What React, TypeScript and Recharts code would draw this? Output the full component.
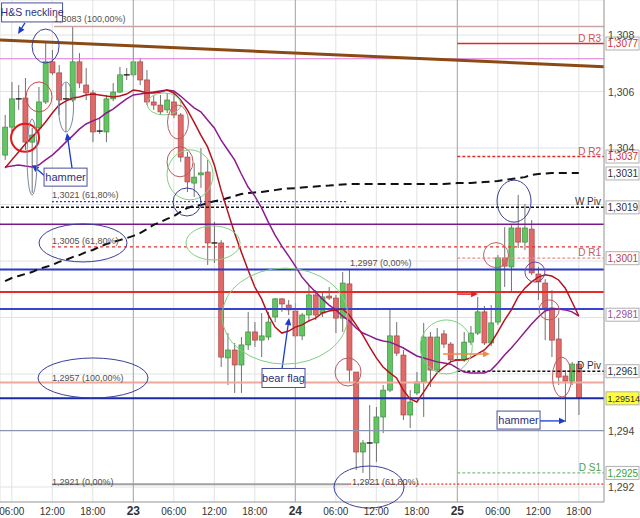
import React from 'react';
import { ComposedChart, Bar, Line, XAxis, YAxis, CartesianGrid, ReferenceLine, ReferenceDot } from 'recharts';

// ---------- data ----------
const hours = [5,6,7,8,9,10,11,12,13,14,15,16,17,18,19,20,21,22,23,24,25,26,27,28,29,30,31,32,33,34,35,36,37,38,39,40,41,42,43,44,45,46,47,48,49,50,51,52,53,54,55,56,57,58,59,60,61,62,63,64,65,66,67,68,69,70,71,72,73,74,75,76,77,78,79,80,81,82,83,84,85,86,87,88,89,90];
const opens = [1.30375,1.30474,1.30574,1.30577,1.30421,1.30471,1.30563,1.30705,1.30666,1.30574,1.30570,1.30705,1.30623,1.30595,1.30460,1.30457,1.30574,1.30598,1.30659,1.30659,1.30705,1.30641,1.30563,1.30552,1.30535,1.30563,1.30517,1.30368,1.30276,1.30305,1.30315,1.30064,1.30064,1.29657,1.29685,1.29632,1.29703,1.29749,1.29720,1.29731,1.29802,1.29866,1.29844,1.29823,1.29735,1.29809,1.29880,1.29816,1.29876,1.29869,1.29798,1.29919,1.29607,1.29324,1.29356,1.29356,1.29448,1.29543,1.29735,1.29667,1.29455,1.29533,1.29572,1.29731,1.29614,1.29742,1.29706,1.29650,1.29650,1.29713,1.29745,1.29820,1.29710,1.29784,1.30011,1.29979,1.30117,1.30067,1.30113,1.29954,1.29922,1.29834,1.29724,1.29593,1.29575,1.29635];
const highs = [1.30517,1.30634,1.30623,1.30648,1.30471,1.30616,1.30772,1.30747,1.30694,1.30630,1.30830,1.30736,1.30683,1.30605,1.30510,1.30588,1.30630,1.30687,1.30683,1.30758,1.30719,1.30676,1.30588,1.30588,1.30595,1.30598,1.30524,1.30386,1.30347,1.30400,1.30358,1.30138,1.30074,1.29745,1.29710,1.29731,1.29820,1.29784,1.29816,1.29820,1.29869,1.29869,1.29862,1.29851,1.29816,1.29915,1.29897,1.29890,1.29908,1.29880,1.29961,1.29968,1.29607,1.29366,1.29490,1.29483,1.29561,1.29827,1.29784,1.29685,1.29543,1.29607,1.29781,1.29749,1.29763,1.29756,1.29713,1.29678,1.29749,1.29770,1.29873,1.29841,1.29844,1.30021,1.30120,1.30127,1.30234,1.30202,1.30145,1.29979,1.29936,1.29897,1.29798,1.29614,1.29643,1.29643];
const lows = [1.30358,1.30453,1.30535,1.30393,1.30241,1.30428,1.30556,1.30659,1.30517,1.30457,1.30563,1.30612,1.30570,1.30421,1.30450,1.30421,1.30566,1.30595,1.30641,1.30651,1.30623,1.30552,1.30535,1.30517,1.30524,1.30506,1.30351,1.30244,1.30227,1.30259,1.29986,1.29993,1.29625,1.29561,1.29533,1.29533,1.29685,1.29696,1.29660,1.29720,1.29784,1.29820,1.29809,1.29727,1.29720,1.29784,1.29791,1.29802,1.29862,1.29745,1.29749,1.29572,1.29260,1.29250,1.29225,1.29289,1.29391,1.29536,1.29664,1.29437,1.29409,1.29526,1.29448,1.29554,1.29607,1.29692,1.29643,1.29628,1.29643,1.29703,1.29738,1.29703,1.29699,1.29774,1.29908,1.29887,1.30046,1.30039,1.29950,1.29862,1.29720,1.29660,1.29561,1.29430,1.29561,1.29455];
const closes = [1.30474,1.30574,1.30572,1.30421,1.30446,1.30563,1.30705,1.30666,1.30570,1.30572,1.30705,1.30630,1.30595,1.30457,1.30458,1.30574,1.30598,1.30659,1.30657,1.30705,1.30641,1.30563,1.30552,1.30528,1.30570,1.30517,1.30368,1.30280,1.30297,1.30312,1.30064,1.30062,1.29660,1.29685,1.29632,1.29703,1.29749,1.29720,1.29735,1.29784,1.29866,1.29848,1.29827,1.29735,1.29809,1.29880,1.29809,1.29873,1.29869,1.29798,1.29922,1.29614,1.29324,1.29356,1.29354,1.29448,1.29543,1.29735,1.29674,1.29455,1.29501,1.29572,1.29731,1.29614,1.29731,1.29706,1.29650,1.29648,1.29713,1.29745,1.29820,1.29710,1.29781,1.30011,1.29982,1.30117,1.30067,1.30117,1.29958,1.29926,1.29834,1.29720,1.29589,1.29575,1.29635,1.29515];
const maFast = [1.30329,1.30358,1.30386,1.30414,1.30439,1.30464,1.30492,1.30524,1.30552,1.30566,1.30577,1.30581,1.30588,1.30591,1.30588,1.30584,1.30581,1.30584,1.30591,1.30605,1.30602,1.30595,1.30595,1.30598,1.30605,1.30595,1.30570,1.30535,1.30492,1.30446,1.30404,1.30340,1.30251,1.30174,1.30099,1.30032,1.29968,1.29908,1.29866,1.29809,1.29766,1.29745,1.29752,1.29766,1.29774,1.29788,1.29798,1.29816,1.29823,1.29827,1.29830,1.29809,1.29774,1.29738,1.29696,1.29657,1.29625,1.29604,1.29586,1.29543,1.29512,1.29501,1.29536,1.29572,1.29604,1.29625,1.29643,1.29650,1.29650,1.29657,1.29671,1.29685,1.29710,1.29749,1.29791,1.29827,1.29873,1.29904,1.29926,1.29943,1.29951,1.29947,1.29933,1.29904,1.29855,1.29805];
const maSlow = [1.30333,1.30336,1.30340,1.30336,1.30333,1.30340,1.30358,1.30375,1.30397,1.30421,1.30443,1.30467,1.30485,1.30496,1.30506,1.30524,1.30538,1.30556,1.30574,1.30588,1.30591,1.30595,1.30598,1.30602,1.30605,1.30602,1.30584,1.30563,1.30542,1.30528,1.30499,1.30471,1.30428,1.30393,1.30358,1.30308,1.30262,1.30230,1.30188,1.30138,1.30092,1.30053,1.30018,1.29982,1.29943,1.29915,1.29890,1.29866,1.29844,1.29827,1.29805,1.29788,1.29763,1.29745,1.29735,1.29724,1.29717,1.29713,1.29703,1.29692,1.29678,1.29664,1.29657,1.29650,1.29643,1.29639,1.29635,1.29621,1.29607,1.29604,1.29604,1.29604,1.29614,1.29639,1.29667,1.29692,1.29720,1.29749,1.29777,1.29802,1.29823,1.29830,1.29830,1.29827,1.29820,1.29805];
const maLong = [1.29929,1.29940,1.29947,1.29954,1.29961,1.29972,1.29979,1.29986,1.29997,1.30004,1.30014,1.30021,1.30032,1.30039,1.30050,1.30060,1.30067,1.30074,1.30081,1.30089,1.30099,1.30113,1.30128,1.30138,1.30149,1.30159,1.30174,1.30188,1.30195,1.30198,1.30205,1.30212,1.30216,1.30223,1.30230,1.30237,1.30241,1.30243,1.30244,1.30248,1.30251,1.30255,1.30257,1.30258,1.30260,1.30262,1.30264,1.30266,1.30267,1.30269,1.30271,1.30273,1.30273,1.30273,1.30273,1.30273,1.30273,1.30273,1.30273,1.30273,1.30273,1.30273,1.30273,1.30273,1.30273,1.30273,1.30274,1.30276,1.30276,1.30276,1.30278,1.30280,1.30281,1.30283,1.30287,1.30290,1.30294,1.30297,1.30305,1.30308,1.30310,1.30312,1.30312,1.30312,1.30312,1.30312];

const xTicks = [6,12,18,24,30,36,42,48,54,60,66,72,78,84,90];
const xTickLabels = ['06:00','12:00','18:00','23','06:00','12:00','18:00','24','06:00','12:00','18:00','25','06:00','12:00','18:00'];
const yTicks = [1.292,1.294,1.296,1.298,1.300,1.302,1.304,1.306,1.308];
const yTickShown = [true,true,false,false,false,false,true,true,true];

const pivotNames = ['D R3','D R2','W Piv','D R1','D Piv','D S1'];
const pivotValues = [1.3077,1.3037,1.3019,1.3001,1.2961,1.2925];
const pivotStart = 72;

const fibTexts = ['1,3083 (100,00%)','1,3021 (61,80%)','1,3005 (61,80%)','1,2997 (0,00%)','1,2957 (100,00%)','1,2921 (0,00%)','1,2921 (61,80%)'];
const fibTextHours = [12.25,11.95,11.95,56.1,11.95,11.95,56.4];
const fibTextPrices = [1.30846,1.30223,1.30060,1.29982,1.29575,1.29207,1.29207];

const levelsFull = [1.30716,1.3013,1.2997,1.2989,1.2983,1.2957,1.29514,1.294];
const fib100 = 1.3083, fib618a = 1.3021, fib618b = 1.3005, fib0 = 1.2921;
const neckline = [1.30782, 1.30688];

const boxTexts = ['1,3077','1,3037','1,3031','1,3019','1,3001','1,2981','1,2961','1,29514','1,2925'];
const boxValues = [1.3077,1.3037,1.3031,1.3019,1.3001,1.2981,1.2961,1.29514,1.2925];

const ellipseHours = [11.0,10.03,7.96,9.0,14.03,28.55,30.62,30.92,32.4,31.96,35.81,16.55,46.47,55.81,18.03,58.92,70.36,77.73,80.4,83.5,85.6,87.51];
const ellipsePrices = [1.30761,1.30581,1.30436,1.30368,1.30545,1.30556,1.30492,1.30351,1.30305,1.30209,1.30064,1.30064,1.29805,1.29607,1.29586,1.29200,1.29696,1.30021,1.30212,1.29961,1.29827,1.29589];

const calloutTexts = ['H&S neckline','hammer','bear flag','hammer'];
const calloutHours = [9.0,13.96,46.25,81.07];
const calloutPrices = [1.3088,1.30297,1.29586,1.29437];

const arrowFromHours = [7.95,10.77,14.92,46.03,84.25,69.88,71.96];
const arrowFromPrices = [1.30843,1.30304,1.30329,1.29618,1.29434,1.29671,1.29883];
const arrowToHours = [6.92,8.99,14.18,47.07,88.1,76.84,75.07];
const arrowToPrices = [1.30804,1.30340,1.30453,1.29798,1.29434,1.29671,1.29883];

// ---------- styles ----------
const NAVY = '#3a3f9a', GREEN = '#80d080', BROWN = '#b85c5c';
const ellipseStyle: [number, number, string, number][] = [
  [13.5,17,NAVY,1],[13,15,'#c84a4a',1],[14,14,'#e01818',2],[5,38,'#7a86a0',1],[7.5,25,'#7a86a0',1],
  [17,11,GREEN,1],[10.5,17,BROWN,1],[13,15,BROWN,1],[23,25,GREEN,1],[14,14,NAVY,1],[27,17,GREEN,1],
  [44,19,NAVY,1],[63,48,GREEN,1],[13,14,BROWN,1],[55,20,NAVY,1],[35,21,NAVY,1],[26,27,GREEN,1],
  [12.5,12.5,'#c06060',1],[17,21,NAVY,1],[10,10,'#6a4aa0',1],[10,10,BROWN,1],[9.5,20,BROWN,1],
];
const calloutSize: [number, number, number][] = [[61,19,10.5],[43,18,11],[43,19,11],[43,18,11]];
const arrowColors = ['#1a3ad0','#1a3ad0','#1a3ad0','#1a3ad0','#1a3ad0','#f08a4a','#e02020'];
const pivotColors = ['#d05050','#d05050','#333333','#c06060','#333333','#50a050'];
const boxColors = ['#d03030','#d03030','#303030','#303030','#c04040','#a050a0','#303030','#303030','#40a040'];
const levelColors = ['#e07ad8','#7a1a8a','#2d38c8','#e52a2a','#3545d0','#f0a898','#1a2aa8','#8c94b0'];
const levelWidths = [1.2,1.5,2,2,2,2,2,1.2];

const W = 640, H = 518;
const X_DOMAIN: [number, number] = [4.25, 93.73];
const Y_DOMAIN: [number, number] = [1.29147, 1.30924];
const FONT = '"Liberation Sans", Arial, sans-serif';

function Candle(props: any) {
  const { x, y, width, height, payload } = props;
  if (!payload || x == null || y == null) return null;
  const { o, h, l, c } = payload;
  const top0 = height < 0 ? y + height : y;
  const hh = Math.abs(height);
  const cx = x + width / 2;
  const k = hh / (h - l);
  const py = (v: number) => top0 + (h - v) * k;
  const bt = py(Math.max(o, c));
  const bb = py(Math.min(o, c));
  const up = c > o;
  const doji = Math.abs(c - o) < 0.00004;
  return (
    <g>
      <line x1={cx} x2={cx} y1={top0} y2={top0 + hh} stroke="#707070" strokeWidth={1} />
      {doji ? (
        <line x1={cx - 3} x2={cx + 3} y1={bt} y2={bt} stroke="#111" strokeWidth={1.3} />
      ) : (
        <rect x={cx - 2.5} y={bt} width={5} height={Math.max(1, bb - bt)}
          fill={up ? '#62c462' : '#e06a6a'} stroke={up ? '#3f8f3f' : '#a94848'} strokeWidth={0.7} />
      )}
    </g>
  );
}

const XTick = (p: any) => {
  const i = xTicks.indexOf(p.payload.value);
  const label = xTickLabels[i] ?? '';
  const day = label.length <= 2;
  return (
    <text x={p.x} y={p.y + 11} textAnchor="middle" fontFamily={FONT}
      fontSize={day ? 12 : 10} fontWeight={day ? 'bold' : 'normal'} fill="#333">{label}</text>
  );
};

const YTick = (p: any) => {
  const i = yTicks.findIndex((v) => Math.abs(v - p.payload.value) < 1e-6);
  if (i < 0 || !yTickShown[i]) return <g />;
  return (
    <text x={p.x + 4} y={p.y + 4} textAnchor="start" fontFamily={FONT} fontSize={10.5} fill="#444">
      {yTicks[i].toFixed(3).replace('.', ',')}
    </text>
  );
};

const arrowShape = (color: string, w: number) => (p: any) => {
  const { x1, y1, x2, y2 } = p;
  if ([x1, y1, x2, y2].some((v) => v == null || isNaN(v))) return <g />;
  const a = Math.atan2(y2 - y1, x2 - x1);
  const L = 7, Wd = 3.2;
  const bx = x2 - L * Math.cos(a), by = y2 - L * Math.sin(a);
  const pts = `${x2},${y2} ${bx - Wd * Math.sin(a)},${by + Wd * Math.cos(a)} ${bx + Wd * Math.sin(a)},${by - Wd * Math.cos(a)}`;
  return (
    <g>
      <line x1={x1} y1={y1} x2={bx} y2={by} stroke={color} strokeWidth={w} />
      <polygon points={pts} fill={color} />
    </g>
  );
};

export default function App() {
  const data = hours.map((t, i) => ({
    t, o: opens[i], h: highs[i], l: lows[i], c: closes[i],
    fast: maFast[i], slow: maSlow[i], long: maLong[i],
  }));
  const xEnd = X_DOMAIN[1];
  return (
    <div style={{ position: 'absolute', left: 0, top: 0, width: W, height: H, background: '#fff', fontFamily: FONT }}>
      <ComposedChart width={W} height={H} data={data} margin={{ top: 0, right: 0, bottom: 0, left: 0 }}>
        <CartesianGrid stroke="#e2e2e2" strokeWidth={1} />
        <XAxis dataKey="t" type="number" domain={X_DOMAIN} ticks={xTicks} interval={0} allowDataOverflow
          height={16} tickSize={0} tickMargin={2} tickLine={false} axisLine={{ stroke: '#a0a0a0' }} tick={<XTick />} />
        <YAxis orientation="right" type="number" domain={Y_DOMAIN} ticks={yTicks} interval={0} allowDataOverflow
          width={36} tickSize={0} tickMargin={0} tickLine={false} axisLine={{ stroke: '#a0a0a0' }} tick={<YTick />} />

        {[24, 48, 72].map((d) => (
          <ReferenceLine key={'day' + d} x={d} stroke="#a8a8a8" strokeWidth={1} />
        ))}

        {levelsFull.map((v, i) => (
          <ReferenceLine key={'lv' + i} y={v} stroke={levelColors[i]} strokeWidth={levelWidths[i]} />
        ))}
        <ReferenceLine y={pivotValues[2]} stroke="#111" strokeWidth={1.5} strokeDasharray="3 2" />
        <ReferenceLine segment={[{ x: 12.25, y: fib100 }, { x: xEnd, y: fib100 }]} stroke="#c8a4a4" strokeWidth={1.5} />
        <ReferenceLine segment={[{ x: 11.95, y: fib618a }, { x: 55.6, y: fib618a }]} stroke="#2a3acc" strokeWidth={1.3} strokeDasharray="2 2" />
        <ReferenceLine segment={[{ x: 11.95, y: fib618b }, { x: xEnd, y: fib618b }]} stroke="#e03030" strokeWidth={1.3} strokeDasharray="3 3" />
        <ReferenceLine segment={[{ x: 11.95, y: fib0 }, { x: 56, y: fib0 }]} stroke="#a0a0a0" strokeWidth={2} />
        <ReferenceLine segment={[{ x: 56, y: fib0 }, { x: xEnd, y: fib0 }]} stroke="#e03030" strokeWidth={1.3} strokeDasharray="2 2" />
        <ReferenceLine segment={[{ x: pivotStart, y: pivotValues[0] }, { x: xEnd, y: pivotValues[0] }]} stroke="#e02a2a" strokeWidth={1.5} />
        <ReferenceLine segment={[{ x: pivotStart, y: pivotValues[1] }, { x: xEnd, y: pivotValues[1] }]} stroke="#e02a2a" strokeWidth={1.5} strokeDasharray="3 2" />
        <ReferenceLine segment={[{ x: pivotStart, y: pivotValues[3] }, { x: xEnd, y: pivotValues[3] }]} stroke="#e39090" strokeWidth={1.3} strokeDasharray="3 2" />
        <ReferenceLine segment={[{ x: pivotStart, y: pivotValues[4] }, { x: xEnd, y: pivotValues[4] }]} stroke="#111" strokeWidth={1.5} strokeDasharray="3 2" />
        <ReferenceLine segment={[{ x: pivotStart, y: pivotValues[5] }, { x: xEnd, y: pivotValues[5] }]} stroke="#80c080" strokeWidth={1.3} strokeDasharray="3 2" />
        <ReferenceLine segment={[{ x: X_DOMAIN[0], y: neckline[0] }, { x: xEnd, y: neckline[1] }]} stroke="#8b4a14" strokeWidth={3} />

        <Bar dataKey={(d: any) => [d.l, d.h]} barSize={5} isAnimationActive={false} activeBar={false}
          shape={(p: any) => <Candle {...p} />} />
        <Line dataKey="long" type="linear" stroke="#111" strokeWidth={2} strokeDasharray="8 5" dot={false} activeDot={false} isAnimationActive={false} />
        <Line dataKey="slow" type="linear" stroke="#8b1c8b" strokeWidth={1.5} dot={false} activeDot={false} isAnimationActive={false} />
        <Line dataKey="fast" type="linear" stroke="#b3141e" strokeWidth={1.5} dot={false} activeDot={false} isAnimationActive={false} />

        {ellipseHours.map((t, i) => {
          const [rx, ry, col, sw] = ellipseStyle[i];
          return (
            <ReferenceDot key={'el' + i} x={t} y={ellipsePrices[i]} r={1} ifOverflow="visible"
              shape={(p: any) => <ellipse cx={p.cx} cy={p.cy} rx={rx} ry={ry} fill="none" stroke={col} strokeWidth={sw} />} />
          );
        })}

        {arrowFromHours.map((t, i) => (
          <ReferenceLine key={'ar' + i} segment={[{ x: t, y: arrowFromPrices[i] }, { x: arrowToHours[i], y: arrowToPrices[i] }]}
            ifOverflow="visible" shape={arrowShape(arrowColors[i], i >= 5 ? 1.5 : 1.3)} />
        ))}

        {calloutTexts.map((txt, i) => {
          const [bw, bh, fs] = calloutSize[i];
          return (
            <ReferenceDot key={'co' + i} x={calloutHours[i]} y={calloutPrices[i]} r={1} ifOverflow="visible"
              shape={(p: any) => (
                <g>
                  <rect x={p.cx - bw / 2} y={p.cy - bh / 2} width={bw} height={bh} fill="#fff" stroke="#4a4f9a" strokeWidth={1} />
                  <text x={p.cx} y={p.cy + 4} textAnchor="middle" fontFamily={FONT} fontSize={fs} fill="#2b3080">{txt}</text>
                </g>
              )} />
          );
        })}

        {fibTexts.map((txt, i) => (
          <ReferenceDot key={'ft' + i} x={fibTextHours[i]} y={fibTextPrices[i]} r={1} ifOverflow="visible"
            shape={(p: any) => (
              <text x={p.cx} y={p.cy} textAnchor="start" fontFamily={FONT} fontSize={9} fill="#505050">{txt}</text>
            )} />
        ))}

        {pivotNames.map((nm, i) => (
          <ReferenceDot key={'pn' + i} x={xEnd} y={pivotValues[i]} r={1} ifOverflow="visible"
            shape={(p: any) => (
              <text x={p.cx - 3} y={p.cy - 2} textAnchor="end" fontFamily={FONT} fontSize={10} fill={pivotColors[i]}>{nm}</text>
            )} />
        ))}

        {boxTexts.map((txt, i) => {
          const long = txt.length > 6;
          return (
            <ReferenceDot key={'bx' + i} x={xEnd} y={boxValues[i]} r={1} ifOverflow="visible"
              shape={(p: any) => (
                <g>
                  <rect x={p.cx + 2} y={p.cy - 6.5} width={33} height={13}
                    fill={long ? '#ffff3a' : '#fff'} stroke="#b0b0b0" strokeWidth={1} />
                  <text x={p.cx + 3.5} y={p.cy + 3.6} textAnchor="start" fontFamily={FONT}
                    fontSize={long ? 9 : 10} fill={boxColors[i]}>{txt}</text>
                </g>
              )} />
          );
        })}
      </ComposedChart>
    </div>
  );
}
